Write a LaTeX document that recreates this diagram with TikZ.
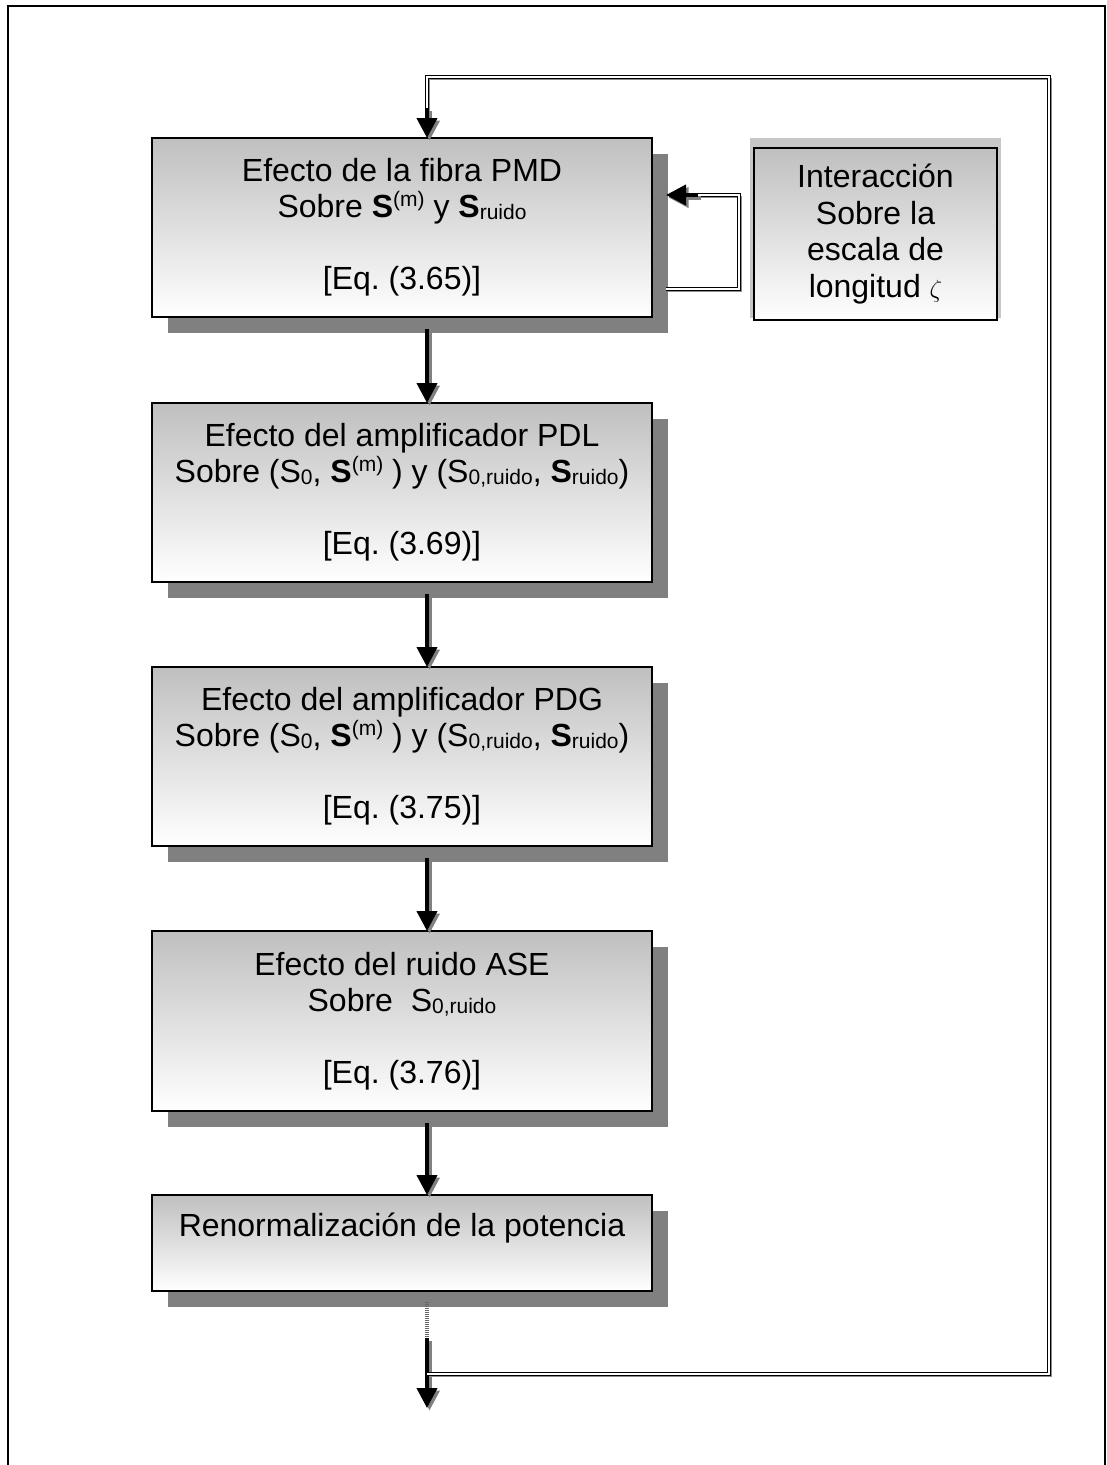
\documentclass[tikz,border=0pt]{standalone}
\usepackage{fontspec}
\setmainfont{Liberation Sans}
\usetikzlibrary{arrows.meta,shadows}
\frenchspacing
\newcommand{\sidx}[1]{\raisebox{-2pt}{\fontsize{21}{21}\selectfont #1}}
\newcommand{\hidx}[1]{\raisebox{11pt}{\fontsize{21}{21}\selectfont #1}}
\tikzset{
	stagebox/.style={draw=black, line width=1.2pt, top color=black!25, bottom color=white,
		general shadow={fill=black!50, shadow xshift=16pt, shadow yshift=-16pt},
		anchor=north west, inner sep=0pt, outer sep=0pt, align=center,
		font=\fontsize{32}{36}\selectfont},
	sidebox/.style={draw=black, line width=1.2pt, top color=black!25, bottom color=white,
		anchor=north west, inner sep=0pt, outer sep=0pt, align=center,
		font=\fontsize{32}{36.5}\selectfont},
	flowarrow/.style={line width=4pt, -{Triangle[width=20pt,length=20pt]}},
	arrowshade/.style={flowarrow, draw=black!50, fill=black!50, transform canvas={xshift=2.5pt,yshift=-2.5pt}},
	loopline/.style={line width=1.3pt, double=white, double distance=1.5pt},
	loopshade/.style={line width=1.8pt, draw=black!45, transform canvas={xshift=2pt,yshift=-2pt}}
}
\def\flowline(#1)(#2){\draw[arrowshade] (#1) -- (#2); \draw[flowarrow] (#1) -- (#2);}
\def\doubleline#1{\draw[loopshade] #1; \draw[loopline] #1;}
\begin{document}
\begin{tikzpicture}[x=1pt, y=-1pt]
		%%%%% START %%%%%
		\useasboundingbox (0,0) rectangle (1107,1465);
		\draw[line width=1.2pt] (8,1465) -- (8,6) -- (1105,6) -- (1105,1465);
		
		\coordinate (ax) at (427,0);
		\coordinate (lpR) at (1049,0);
		\coordinate (lpT) at (0,77);
		\coordinate (lpB) at (0,1374);
		\coordinate (fbx) at (739,0);
		\coordinate (fbin) at (0,195);
		\coordinate (fbout) at (0,289);
		\coordinate (out) at (427,1408);
		
		\node[stagebox, minimum width=500pt, minimum height=179pt] (pmd) at (152,138)
			{Efecto de la fibra PMD\\Sobre \textbf{S}\hidx{(m)} y \textbf{S}\sidx{ruido}\\ \mbox{}\\{}[Eq. (3.65)]};
		\node[stagebox, minimum width=500pt, minimum height=179pt] (pdl) at (152,403)
			{Efecto del amplificador PDL\\Sobre (S\sidx{0}, \textbf{S}\hidx{(m)} ) y (S\sidx{0,ruido}, \textbf{S}\sidx{ruido})\\ \mbox{}\\{}[Eq. (3.69)]};
		\node[stagebox, minimum width=500pt, minimum height=179pt] (pdg) at (152,667)
			{Efecto del amplificador PDG\\Sobre (S\sidx{0}, \textbf{S}\hidx{(m)} ) y (S\sidx{0,ruido}, \textbf{S}\sidx{ruido})\\ \mbox{}\\{}[Eq. (3.75)]};
		\node[stagebox, minimum width=500pt, minimum height=180pt] (ase) at (152,931)
			{Efecto del ruido ASE\\Sobre\ \ S\sidx{0,ruido}\\ \mbox{}\\{}[Eq. (3.76)]};
		\node[stagebox, minimum width=500pt, minimum height=96pt] (renorm) at (152,1195)
			{Renormalización de la potencia\\ \mbox{}};
		
		\fill[black!22] (750,138) rectangle (1001,318);
		\node[sidebox, minimum width=243pt, minimum height=172pt] (inter) at (754,148)
			{Interacción\\Sobre la\\escala de\\longitud $\zeta$};
		
		\flowline([yshift=-12pt]ax |- pmd.south)(ax |- pdl.north)
		\flowline([yshift=-12pt]ax |- pdl.south)(ax |- pdg.north)
		\flowline([yshift=-12pt]ax |- pdg.south)(ax |- ase.north)
		\flowline([yshift=-12pt]ax |- ase.south)(ax |- renorm.north)
		
		\draw[line width=4pt, black!60, dash pattern=on 1pt off 1pt] ([yshift=-11pt]ax |- renorm.south) -- ([yshift=-47pt]ax |- renorm.south);
		\flowline([yshift=-47pt]ax |- renorm.south)(out)
		
		\doubleline{(ax |- lpB) -- (lpR |- lpB) -- (lpR |- lpT) -- (ax |- lpT) -- ([yshift=24pt]ax |- pmd.north)}
		\flowline([yshift=30pt]ax |- pmd.north)(ax |- pmd.north)
		
		\doubleline{([xshift=14pt]pmd.east |- fbout) -- (fbx |- fbout) -- (fbx |- fbin) -- ([xshift=40pt]pmd.east |- fbin)}
		\flowline([xshift=46pt]pmd.east |- fbin)([xshift=14pt]pmd.east |- fbin)
		%%%%% END %%%%%
	\end{tikzpicture}
\end{document}
